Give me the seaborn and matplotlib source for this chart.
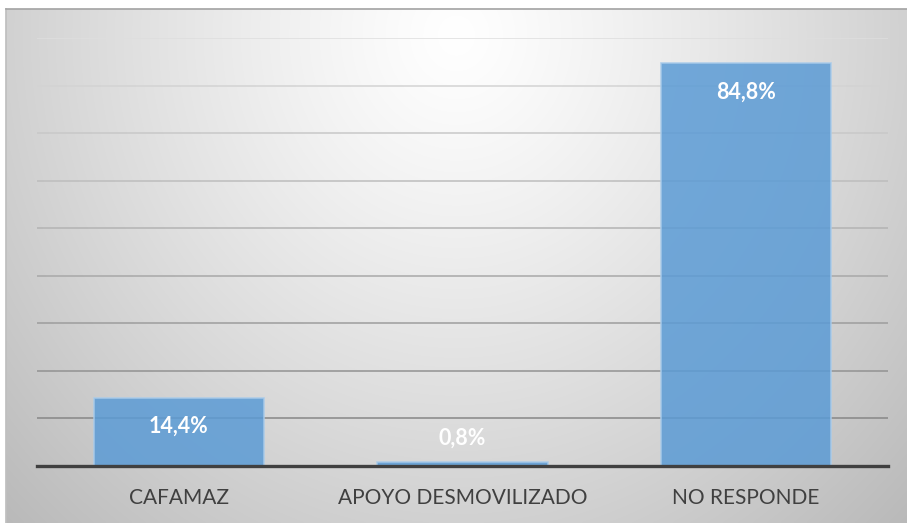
import numpy as np
import pandas as pd
import matplotlib
matplotlib.use("Agg")
import matplotlib.pyplot as plt
import seaborn as sns

categories = ["CAFAMAZ", "APOYO DESMOVILIZADO", "NO RESPONDE"]
values = [14.4, 0.8, 84.8]
value_labels = ["14,4%", "0,8%", "84,8%"]
y_ticks = [0, 10, 20, 30, 40, 50, 60, 70, 80, 90]

sns.set_theme(style="white")
plt.rcParams["font.family"] = ["Lato", "DejaVu Sans"]

W, H = 907, 523
fig = plt.figure(figsize=(W / 100, H / 100), dpi=100)
fig.patch.set_facecolor("white")

# radial gradient background
bg = fig.add_axes([6 / W, 0, 1 - 6 / W, 1 - 9 / H], zorder=-5)
ny, nx = 260, 450
yy, xx = np.mgrid[0:1:ny * 1j, 0:1:nx * 1j]
d = np.sqrt(((xx - 0.5) / 0.5) ** 2 + ((yy - 0.05) / 0.95) ** 2)
val = np.clip(1.0 - 0.18 * d ** 1.2, 0, 1)
img = np.dstack([val, val, val])
bg.imshow(img, aspect="auto", extent=[0, 1, 1, 0], interpolation="bilinear")
bg.set_xlim(0, 1)
bg.set_ylim(1, 0)
for s in bg.spines.values():
    s.set_visible(False)
bg.spines["top"].set_visible(True)
bg.spines["left"].set_visible(True)
bg.spines["top"].set_color("#a6a6a6")
bg.spines["left"].set_color("#bfbfbf")
bg.set_xticks([])
bg.set_yticks([])

ax = fig.add_axes([37 / W, 1 - 466 / H, (888 - 37) / W, (466 - 38) / H])
ax.patch.set_alpha(0)

df = pd.DataFrame({"cat": categories, "val": values})
sns.barplot(data=df, x="cat", y="val", ax=ax, color="#5b9bd5", width=0.6,
            edgecolor="#a9cbea", linewidth=1.2, saturation=1, zorder=3)
for p in ax.patches:
    p.set_alpha(0.85)

ax.set_ylim(0, 90)
ax.set_xlim(-0.5, 2.5)

# gridlines with gradient colour
light = np.array([0.87, 0.87, 0.87])
dark = np.array([0.53, 0.53, 0.53])
for t in y_ticks[1:]:
    f = (t - 10) / 80
    c = dark + (light - dark) * f
    ax.axhline(t, color=tuple(c), linewidth=1.1, zorder=1)

ax.set_yticks([])
ax.set_xlabel("")
ax.set_ylabel("")
for s in ["top", "left", "right"]:
    ax.spines[s].set_visible(False)
ax.spines["bottom"].set_color("#404040")
ax.spines["bottom"].set_linewidth(2.4)
ax.spines["bottom"].set_zorder(5)
ax.tick_params(axis="x", length=0, pad=16, labelsize=15, labelcolor="#404040")

for i, (v, lab) in enumerate(zip(values, value_labels)):
    if v > 5:
        ax.annotate(lab, (i, v), xytext=(0, -21), textcoords="offset points",
                    ha="center", va="center", color="white", fontsize=15.5,
                    fontweight="bold", zorder=6)
    else:
        ax.annotate(lab, (i, v), xytext=(0, 17), textcoords="offset points",
                    ha="center", va="center", color="white", fontsize=15.5,
                    fontweight="bold", zorder=6)

fig.savefig("out.png", dpi=100, facecolor="white")
